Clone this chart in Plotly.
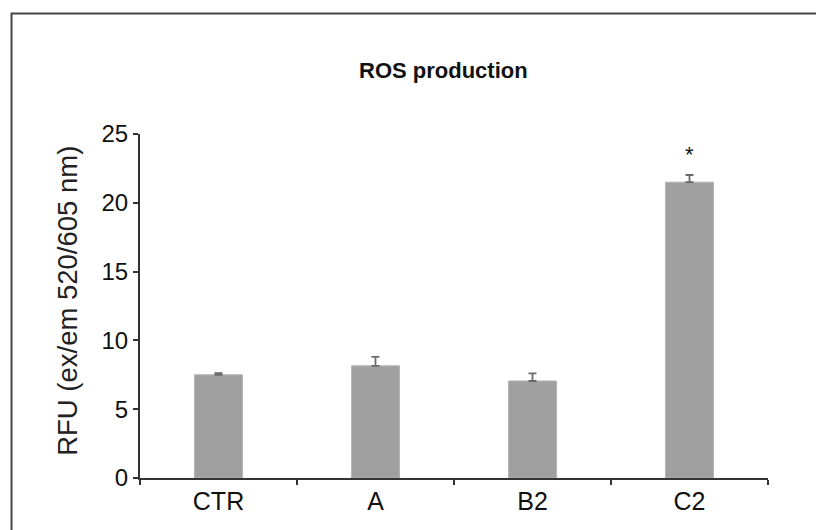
import plotly.graph_objects as go

categories = ["CTR", "A", "B2", "C2"]
values = [7.5, 8.15, 7.05, 21.5]
errors = [0.12, 0.65, 0.55, 0.52]
errors_minus = [0, 0, 0, 0]
sig_labels = ["", "", "", "*"]
y_ticks = [0, 5, 10, 15, 20, 25]

FONT = "Liberation Sans, Arial, sans-serif"

fig = go.Figure()
fig.add_trace(go.Bar(
    x=categories, y=values,
    marker=dict(color="#a0a0a0", line=dict(color="#b4b4b4", width=1)),
    error_y=dict(type="data", symmetric=False, array=errors, arrayminus=errors_minus,
                 visible=True, color="#6a6a6a", thickness=1.8, width=4),
    showlegend=False,
))

for c, v, e, s in zip(categories, values, errors, sig_labels):
    if s:
        fig.add_annotation(x=c, y=v + e + 1.5, text=s, showarrow=False,
                           font=dict(family=FONT, size=22, color="#111"),
                           xref="x", yref="y", yanchor="middle")

fig.add_annotation(x=0.484, y=1.184, xref="paper", yref="paper",
                   text="<b>ROS production</b>", showarrow=False,
                   font=dict(family=FONT, size=22, color="#111"),
                   xanchor="center", yanchor="middle")

fig.add_annotation(x=-0.1146, y=0.515, xref="paper", yref="paper",
                   text="RFU (ex/em 520/605 nm)", textangle=-90, showarrow=False,
                   font=dict(family=FONT, size=27.5, color="#222"),
                   xanchor="center", yanchor="middle")

fig.add_shape(type="rect", xref="paper", yref="paper",
              x0=-0.2046, y0=-0.4, x1=1.3, y1=1.3503,
              line=dict(color="#444", width=2), fillcolor="rgba(0,0,0,0)")

fig.update_layout(
    width=816, height=522,
    margin=dict(l=132, r=56, t=126, b=52),
    paper_bgcolor="white", plot_bgcolor="white",
    bargap=0.694,
    font=dict(family=FONT, size=24, color="#111"),
)
fig.update_xaxes(
    showline=True, linecolor="#333", linewidth=2,
    ticks="outside", tickson="boundaries", ticklen=5, tickcolor="#333", tickwidth=2,
    showgrid=False, tickfont=dict(size=25, family=FONT, color="#111"),
)
fig.update_yaxes(
    range=[0, 25], tickvals=y_ticks,
    showline=True, linecolor="#333", linewidth=2,
    ticks="outside", ticklen=5, tickcolor="#333", tickwidth=2,
    showgrid=False, zeroline=False,
    tickfont=dict(size=24, family=FONT, color="#111"),
)

fig.write_html("out.html")
